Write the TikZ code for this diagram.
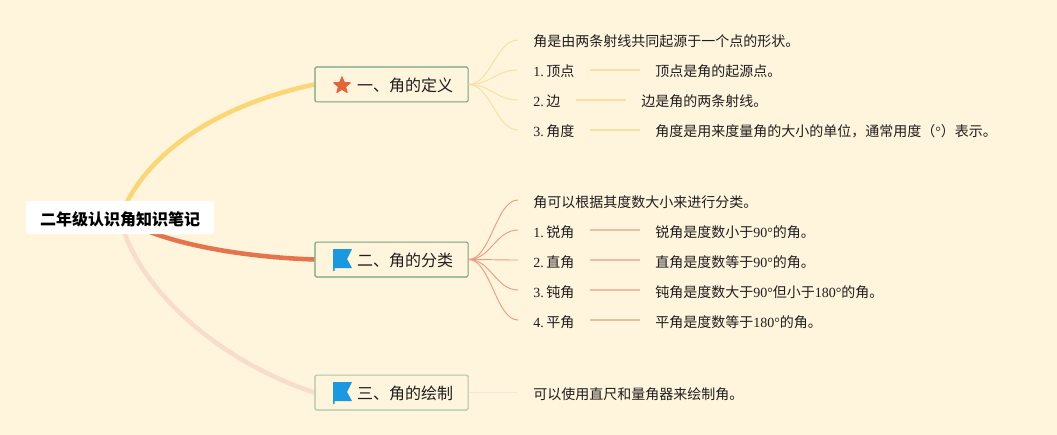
\documentclass[tikz,border=0pt]{standalone}
\usepackage{fontspec}
\setmainfont{Liberation Serif}
\newfontfamily\cjk{Noto Sans CJK SC}
\usetikzlibrary{backgrounds,shapes.geometric}
\newcommand\zh[1]{{\cjk #1}}
\newcommand\nsp{\hspace{2pt}}
\newcommand\toptext[1]{\hspace*{20.25pt}\makebox[72pt][l]{#1}}
\definecolor{paper}{HTML}{FFF4DC}
\definecolor{ink}{HTML}{1E1E1E}
\definecolor{yel}{HTML}{FBD675}
\definecolor{yelthin}{HTML}{FADFA0}
\definecolor{red}{HTML}{E5734C}
\definecolor{redthin}{HTML}{EE9C7E}
\definecolor{redline}{HTML}{EFBCA2}
\definecolor{pink}{HTML}{F8DCCC}
\definecolor{pinkthin}{HTML}{F8E6D8}
\definecolor{boxa}{HTML}{74A281}
\definecolor{boxb}{HTML}{A8C6A6}
\definecolor{flagblue}{HTML}{1A98E0}
\definecolor{stared}{HTML}{E4643A}
\tikzset{
  x=0.75pt,y=-0.75pt,
  rootnode/.style={fill=white,rounded corners=1.5pt,minimum width=141pt,minimum height=24.8pt,inner sep=0pt,text height=12.2pt,text depth=0pt,text=black,font=\fontsize{12}{14}\selectfont\cjk\bfseries},
  topic/.style={draw=#1,line width=0.8pt,rounded corners=1pt,fill=paper,minimum width=114.8pt,minimum height=26.2pt,inner sep=0pt,text height=11.6pt,text depth=1pt,text=ink,font=\fontsize{12}{14}\selectfont\cjk},
  leaf/.style={anchor=west,inner xsep=11.25pt,inner ysep=0pt,text height=12pt,text depth=1.5pt,text=ink,font=\fontsize{10.5}{12}\selectfont},
  main/.style={line width=3.4pt,#1},
  twig/.style={line width=0.7pt,#1},
  bar/.style={line width=1.1pt,#1},
  flagicon/.pic={
    \fill[flagblue,rounded corners=0.3pt] (-9,-11) -- (10,-11) -- (5,-1) -- (10,8) -- (-7.5,8) -- (-7.5,11) -- (-9,11) -- cycle;
  }
}
\begin{document}
\begin{tikzpicture}
\useasboundingbox (0,0) rectangle (1057,435);
\begin{scope}[on background layer]
\fill[paper] (0,0) rectangle (1057,435);
\end{scope}

\node[rootnode] (root) at (120,217.5) {二年级认识角知识笔记};

\node[topic=boxa] (t1) at (391.5,84.5) {\toptext{一、角的定义}};
\node[topic=boxa] (t2) at (391.5,259.5) {\toptext{二、角的分类}};
\node[topic=boxb] (t3) at (391.5,392.5) {\toptext{三、角的绘制}};

\node[star,star points=5,star point ratio=2.3,fill=stared,draw=stared,line join=round,line width=0.8pt,inner sep=0pt,minimum size=13pt] (staricon) at (342,85.5) {};
\pic at (342,260) {flagicon};
\pic at (342,393) {flagicon};

% group one
\node[leaf] (a0) at (518,40) {\zh{角是由两条射线共同起源于一个点的形状。}};
\node[leaf] (a1) at (518,70) {1.\nsp\zh{顶点}};
\node[leaf] (a2) at (518,100) {2.\nsp\zh{边}};
\node[leaf] (a3) at (518,130) {3.\nsp\zh{角度}};
\node[leaf] (a1d) at (640,70) {\zh{顶点是角的起源点。}};
\node[leaf] (a2d) at (626,100) {\zh{边是角的两条射线。}};
\node[leaf] (a3d) at (640,130) {\zh{角度是用来度量角的大小的单位，通常用度（}°\zh{）表示。}};

% group two
\node[leaf] (b0) at (518,200) {\zh{角可以根据其度数大小来进行分类。}};
\node[leaf] (b1) at (518,230) {1.\nsp\zh{锐角}};
\node[leaf] (b2) at (518,260) {2.\nsp\zh{直角}};
\node[leaf] (b3) at (518,290) {3.\nsp\zh{钝角}};
\node[leaf] (b4) at (518,320) {4.\nsp\zh{平角}};
\node[leaf] (b1d) at (640,230) {\zh{锐角是度数小于}90°\zh{的角。}};
\node[leaf] (b2d) at (640,260) {\zh{直角是度数等于}90°\zh{的角。}};
\node[leaf] (b3d) at (640,290) {\zh{钝角是度数大于}90°\zh{但小于}180°\zh{的角。}};
\node[leaf] (b4d) at (640,320) {\zh{平角是度数等于}180°\zh{的角。}};

% group three
\node[leaf] (c0) at (518,392.5) {\zh{可以使用直尺和量角器来绘制角。}};

\begin{scope}[on background layer]
\draw[main=yel] (root.center) .. controls (150,140) and (240,100) .. (t1.west);
\draw[main=red] (root.center) .. controls (160,243) and (240,257) .. (t2.west);
\draw[main=pink] (root.center) .. controls (135,285) and (215,360) .. (t3.west);
\end{scope}

\foreach \n in {a0,a1,a2,a3}
  \draw[twig=yelthin] (t1.east) .. controls +(22,0) and +(-22,0) .. (\n.west);
\foreach \n in {b0,b1,b2,b3,b4}
  \draw[twig=redthin] (t2.east) .. controls +(22,0) and +(-22,0) .. (\n.west);
\draw[twig=pinkthin] (t3.east) -- (c0.west);

\draw[bar=yelthin] (a1.east) -- (a1d.west);
\draw[bar=yelthin] (a2.east) -- (a2d.west);
\draw[bar=yelthin] (a3.east) -- (a3d.west);
\draw[bar=redline] (b1.east) -- (b1d.west);
\draw[bar=redline] (b2.east) -- (b2d.west);
\draw[bar=redline] (b3.east) -- (b3d.west);
\draw[bar=redline] (b4.east) -- (b4d.west);
\end{tikzpicture}
\end{document}
